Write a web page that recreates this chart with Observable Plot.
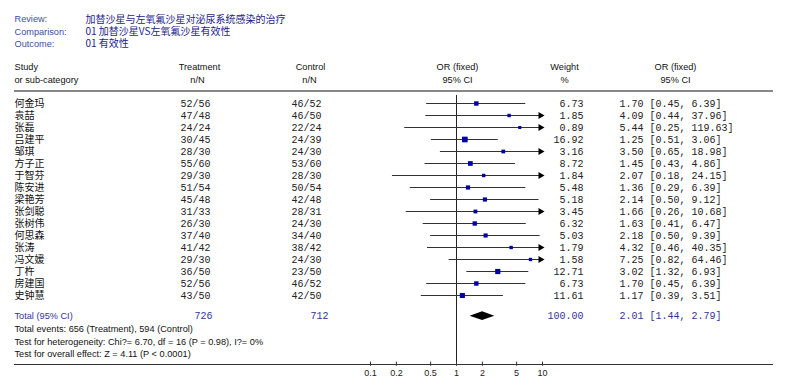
<!DOCTYPE html>
<html><head><meta charset="utf-8">
<script src="https://cdn.jsdelivr.net/npm/d3@7"></script>
<script src="https://cdn.jsdelivr.net/npm/@observablehq/plot@0.6"></script>
<style>body{margin:0;background:#fff} svg{display:block}</style>
</head><body><div id="chart"></div>
<script>
const studies = ["何金玛","袁喆","张磊","吕建平","邹琪","方子正","于智芬","陈安进","梁艳芳","张剑聪","张树伟","何思森","张涛","冯文媛","丁杵","房建国","史钟慧"];
const treatEvents = [52,47,24,30,28,55,29,51,45,31,26,37,41,29,36,52,43];
const treatTotal  = [56,48,24,45,30,60,30,54,48,33,30,40,42,30,50,56,50];
const ctrlEvents  = [46,46,22,24,24,53,28,50,42,28,24,34,38,24,23,46,42];
const ctrlTotal   = [52,50,24,39,30,60,30,54,48,31,30,40,42,30,50,52,50];
const weights = [6.73,1.85,0.89,16.92,3.16,8.72,1.84,5.48,5.18,3.45,6.32,5.03,1.79,1.58,12.71,6.73,11.61];
const oddsRatio = [1.70,4.09,5.44,1.25,3.50,1.45,2.07,1.36,2.14,1.66,1.63,2.18,4.32,7.25,3.02,1.70,1.17];
const ciLow  = [0.45,0.44,0.25,0.51,0.65,0.43,0.18,0.29,0.50,0.26,0.41,0.50,0.46,0.82,1.32,0.45,0.39];
const ciHigh = [6.39,37.96,119.63,3.06,18.98,4.86,24.15,6.39,9.12,10.68,6.47,9.39,40.35,64.46,6.93,6.39,3.51];
const pooled = {or: 2.01, lo: 1.44, hi: 2.79, weight: 100.00, treatN: 726, ctrlN: 712};
const axisTicks = [0.1, 0.2, 0.5, 1, 2, 5, 10];
const titleLabels = ["Review:", "Comparison:", "Outcome:"];
const titleValues = ["加替沙星与左氧氟沙星对泌尿系统感染的治疗", "01 加替沙星VS左氧氟沙星有效性", "01 有效性"];
const footerLines = ["Total events: 656 (Treatment), 594 (Control)",
  "Test for heterogeneity: Chi?= 6.70, df = 16 (P = 0.98), I?= 0%",
  "Test for overall effect: Z = 4.11 (P < 0.0001)"];

const rows = studies.map((s, i) => ({
  i, study: s, te: treatEvents[i], tn: treatTotal[i], ce: ctrlEvents[i], cn: ctrlTotal[i],
  w: weights[i], or: oddsRatio[i], lo: ciLow[i], hi: ciHigh[i]
}));
const f2 = v => v.toFixed(2);

const L = 14;
const sans = "Arial, 'Liberation Sans', sans-serif";
const mono = "'Courier New', 'Liberation Mono', monospace";
const cjk = "'Noto Sans CJK SC', 'Noto Sans CJK TC', sans-serif";
const totalRow = 17.72;
const half = 0.36;
const diamond = [
  {x: pooled.lo, y1: totalRow, y2: totalRow},
  {x: pooled.or, y1: totalRow - half, y2: totalRow + half},
  {x: pooled.hi, y1: totalRow, y2: totalRow}
];
const titleRows = [-7, -5.97, -4.97];
const footRows = [18.77, 19.85, 20.84];
const fs = 9.2;

const col = (px) => px - L;
const hdr = (t, y, px, anchor = "middle") => Plot.text([t], {y, text: d => d, frameAnchor: "left", dx: col(px), textAnchor: anchor, fontFamily: sans, fontSize: fs, fill: "#111"});

const chart = Plot.plot({
  width: 796, height: 391,
  marginLeft: L, marginRight: 23, marginTop: 0, marginBottom: 0,
  style: {background: "#fff"},
  x: {type: "log", domain: [0.1, 10], range: [370, 542], clamp: true, axis: null},
  y: {type: "linear", domain: [-7, 16], range: [19, 295], axis: null},
  r: {type: "sqrt", domain: [0, 17], range: [1.3, 3.2]},
  marks: [
    // title block
    Plot.text(titleLabels, {y: (d, i) => titleRows[i], text: d => d, frameAnchor: "left", textAnchor: "start", fontFamily: sans, fontSize: fs, fill: "#3b4fa0"}),
    Plot.text(titleValues, {y: (d, i) => titleRows[i], text: d => d, frameAnchor: "left", dx: col(85), textAnchor: "start", fontFamily: cjk, fontSize: 10, fill: "#1c1c8a"}),
    // headers
    hdr("Study", -3, L, "start"),
    hdr("or sub-category", -1.95, L, "start"),
    hdr("Treatment", -3, 199),
    hdr("n/N", -1.95, 197),
    hdr("Control", -3, 310),
    hdr("n/N", -1.95, 309),
    hdr("OR (fixed)", -3, 457),
    hdr("95% CI", -1.95, 457),
    hdr("Weight", -3, 564),
    hdr("%", -1.95, 564),
    hdr("OR (fixed)", -3, 675),
    hdr("95% CI", -1.95, 675),
    Plot.ruleY([-1.05], {stroke: "#888", strokeWidth: 2}),
    // study rows
    Plot.text(rows, {y: "i", text: "study", frameAnchor: "left", textAnchor: "start", fontFamily: cjk, fontSize: 10, fill: "#111"}),
    Plot.text(rows, {y: "i", text: d => `${d.te}/${d.tn}`, frameAnchor: "left", dx: col(195), textAnchor: "middle", fontFamily: mono, fontSize: 10, fill: "#222"}),
    Plot.text(rows, {y: "i", text: d => `${d.ce}/${d.cn}`, frameAnchor: "left", dx: col(306), textAnchor: "middle", fontFamily: mono, fontSize: 10, fill: "#222"}),
    Plot.text(rows, {y: "i", text: d => f2(d.w), frameAnchor: "left", dx: col(583), textAnchor: "end", fontFamily: mono, fontSize: 10, fill: "#222"}),
    Plot.text(rows, {y: "i", text: d => `${f2(d.or)} [${f2(d.lo)}, ${f2(d.hi)}]`, frameAnchor: "left", dx: col(619), textAnchor: "start", fontFamily: mono, fontSize: 10, fill: "#222"}),
    // null line
    Plot.ruleX([1], {y1: -0.67, y2: 21.75, stroke: "#222"}),
    // CI lines
    Plot.ruleY(rows, {y: "i", x1: "lo", x2: "hi", stroke: "#333"}),
    Plot.dot(rows.filter(d => d.hi > 10), {x: () => 10, y: "i", symbol: "triangle", rotate: 90, r: 2.6, dx: -2, fill: "#000", stroke: "none"}),
    Plot.dot(rows, {x: "or", y: "i", r: "w", symbol: "square", fill: "#0000aa", stroke: "none"}),
    // total
    Plot.areaY(diamond, {x: "x", y1: "y1", y2: "y2", fill: "#000", curve: "linear"}),
    Plot.text(["Total (95% CI)"], {y: totalRow, text: d => d, frameAnchor: "left", textAnchor: "start", fontFamily: sans, fontSize: fs, fill: "#333399"}),
    Plot.text([pooled], {y: totalRow, text: d => String(d.treatN), frameAnchor: "left", dx: col(203), textAnchor: "middle", fontFamily: mono, fontSize: 10, fill: "#333399"}),
    Plot.text([pooled], {y: totalRow, text: d => String(d.ctrlN), frameAnchor: "left", dx: col(319), textAnchor: "middle", fontFamily: mono, fontSize: 10, fill: "#333399"}),
    Plot.text([pooled], {y: totalRow, text: d => f2(d.weight), frameAnchor: "left", dx: col(583), textAnchor: "end", fontFamily: mono, fontSize: 10, fill: "#333399"}),
    Plot.text([pooled], {y: totalRow, text: d => `${f2(d.or)} [${f2(d.lo)}, ${f2(d.hi)}]`, frameAnchor: "left", dx: col(619), textAnchor: "start", fontFamily: mono, fontSize: 10, fill: "#333399"}),
    Plot.text(footerLines, {y: (d, i) => footRows[i], text: d => d, frameAnchor: "left", textAnchor: "start", fontFamily: sans, fontSize: fs, fill: "#111"}),
    // axis
    Plot.ruleY([21.75], {stroke: "#333"}),
    Plot.ruleX(axisTicks, {x: d => d, y1: 21.55, y2: 21.9, stroke: "#333"}),
    Plot.text(axisTicks, {x: d => d, y: 22.45, text: d => String(d), fontFamily: sans, fontSize: 9, fill: "#222"})
  ]
});
document.getElementById("chart").append(chart);
</script>
</body></html>
